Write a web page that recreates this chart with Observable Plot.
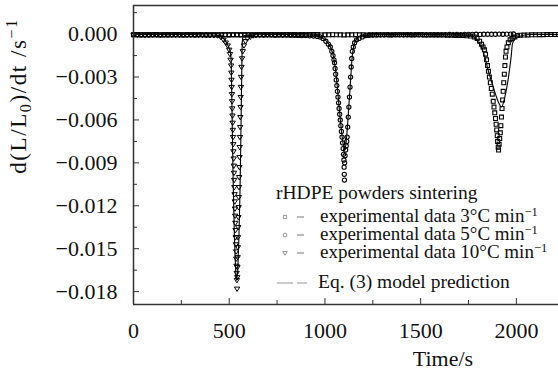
<!DOCTYPE html>
<html><head><meta charset="utf-8">
<script src="https://cdn.jsdelivr.net/npm/d3@7"></script>
<script src="https://cdn.jsdelivr.net/npm/@observablehq/plot@0.6"></script>
<style>
html,body{margin:0;padding:0;background:#fff;}
#chart svg{display:block;}
</style></head><body><div id="chart"></div>
<script>
// ---- axis ticks ----
const xTicks = [0, 500, 1000, 1500, 2000];
const xMinorTicks = [250, 750, 1250, 1750];
const yTicks = [0, -0.003, -0.006, -0.009, -0.012, -0.015, -0.018];
const yMinorTicks = [0.0015, -0.0015, -0.0045, -0.0075, -0.0105, -0.0135, -0.0165];
const xDomain = [0, 2220];
const yDomain = [-0.0189, 0.0020];

// ---- series: [time (s), d(L/L0)/dt (1/s)] ----
const data10 = [ // triangles, 10 °C/min
[0,-0.00004],[20,-0.00005],[40,-0.00004],[60,-0.00006],[80,-0.00005],[100,-0.00004],[120,-0.00005],[140,-0.00006],
[160,-0.00005],[180,-0.00004],[200,-0.00005],[220,-0.00006],[240,-0.00005],[260,-0.00005],[280,-0.00006],[300,-0.00005],
[320,-0.00006],[340,-0.00006],[360,-0.00007],[380,-0.00007],[400,-0.00008],[420,-0.00009],[440,-0.0001],
[455,-0.0002],[470,-0.0004],[482,-0.0006],[492,-0.0008],[500,-0.0011],[504,-0.0014],[507,-0.0018],
[510,-0.0022],[511,-0.0027],[512,-0.0032],[513,-0.0037],[514,-0.0042],[515,-0.0047],[516,-0.0052],[517,-0.0057],
[518,-0.0062],[519,-0.0067],[520,-0.0072],[521,-0.0077],[522,-0.0082],[523,-0.0087],[524,-0.0092],[525,-0.0097],
[526,-0.0102],[527,-0.0107],[528,-0.0112],[529,-0.0117],[530,-0.0122],[531,-0.0127],[532,-0.0132],[533,-0.0137],
[534,-0.0142],[535,-0.0147],[536,-0.0152],[537,-0.0157],[538,-0.0162],[539,-0.0167],[540,-0.0172],[541,-0.0178],
[542,-0.0170],[543,-0.0163],[544,-0.0156],[545,-0.0149],[546,-0.0142],[547,-0.0135],[548,-0.0128],[549,-0.0121],
[550,-0.0114],[551,-0.0107],[552,-0.0100],[553,-0.0093],[554,-0.0086],[555,-0.0079],[556,-0.0072],[557,-0.0065],
[558,-0.0058],[559,-0.0051],[560,-0.0044],[561,-0.0037],[562,-0.0030],[564,-0.0023],[567,-0.0017],[571,-0.0012],
[577,-0.0008],[585,-0.0005],[595,-0.0003],[610,-0.0002],[625,-0.0001],
[640,-0.00008],[660,-0.00006],[680,-0.00005],[700,-0.00005],[720,-0.00004],[740,-0.00005],[760,-0.00004],[780,-0.00004],
[800,-0.00003],[820,-0.00004],[840,-0.00003],[860,-0.00003],[880,-0.00002],[900,-0.00003],[920,-0.00002],[940,-0.00002],[960,-0.00001]
];
const data5 = [ // circles, 5 °C/min
[0,-0.00005],[20,-0.00004],[40,-0.00005],[60,-0.00005],[80,-0.00006],[100,-0.00005],[120,-0.00004],[140,-0.00005],
[160,-0.00005],[180,-0.00006],[200,-0.00005],[220,-0.00004],[240,-0.00005],[260,-0.00005],[280,-0.00004],[300,-0.00005],
[320,-0.00006],[340,-0.00005],[360,-0.00005],[380,-0.00004],[400,-0.00005],[420,-0.00005],[440,-0.00006],[460,-0.00005],
[480,-0.00005],[500,-0.00004],[520,-0.00005],[540,-0.00005],[560,-0.00006],[580,-0.00005],[600,-0.00005],[620,-0.00004],
[640,-0.00005],[660,-0.00005],[680,-0.00006],[700,-0.00005],[720,-0.00005],[740,-0.00006],[760,-0.00006],[780,-0.00007],
[800,-0.00007],[820,-0.00008],[840,-0.00008],[860,-0.00009],[880,-0.0001],[900,-0.0001],[920,-0.00012],[940,-0.00014],[960,-0.00016],
[975,-0.0002],[990,-0.0003],[1005,-0.0005],[1018,-0.0007],[1028,-0.0009],[1036,-0.0012],[1042,-0.0015],[1047,-0.0018],
[1050,-0.0020],[1053,-0.0024],[1056,-0.0028],[1059,-0.0032],[1062,-0.0036],[1065,-0.0040],[1068,-0.0044],[1071,-0.0048],
[1074,-0.0052],[1077,-0.0056],[1080,-0.0060],[1083,-0.0064],[1086,-0.0068],[1089,-0.0072],[1092,-0.0076],[1095,-0.0080],
[1097,-0.0084],[1099,-0.0088],[1100,-0.0093],[1101,-0.0098],[1102,-0.0102],
[1103,-0.0090],[1105,-0.0085],[1108,-0.0081],[1111,-0.0078],[1114,-0.0075],[1116,-0.0072],[1119,-0.0065],[1122,-0.0058],
[1125,-0.0051],[1128,-0.0044],[1131,-0.0037],[1134,-0.0030],[1137,-0.0023],[1140,-0.0017],[1143,-0.0012],[1148,-0.0009],
[1155,-0.0006],[1165,-0.0004],[1178,-0.0003],[1195,-0.0002],[1212,-0.0001],
[1230,-0.00008],[1250,-0.00007],[1270,-0.00006],[1290,-0.00005],[1310,-0.00005],[1330,-0.00004],[1350,-0.00005],[1370,-0.00004],
[1390,-0.00004],[1410,-0.00005],[1430,-0.00004],[1450,-0.00004],[1470,-0.00003],[1490,-0.00004],[1510,-0.00003],[1530,-0.00004],
[1550,-0.00003],[1570,-0.00003],[1590,-0.00004],[1610,-0.00003],[1630,-0.00003],[1650,-0.00002],[1670,-0.00003],[1690,-0.00002],
[1710,-0.00003],[1730,-0.00002],[1750,-0.00002],[1770,-0.00002],[1790,-0.00001],[1810,-0.00002],[1830,-0.00001],[1850,-0.00001],
[1870,-0.00001],[1890,-0.00001],[1910,0.0],[1930,-0.00001],[1950,0.0],[1970,0.0],[1985,0.00001]
];
const data3 = [ // squares, 3 °C/min
[0,-0.00005],[20,-0.00005],[40,-0.00006],[60,-0.00005],[80,-0.00004],[100,-0.00005],[120,-0.00005],[140,-0.00006],
[160,-0.00005],[180,-0.00005],[200,-0.00004],[220,-0.00005],[240,-0.00005],[260,-0.00006],[280,-0.00005],[300,-0.00005],
[320,-0.00004],[340,-0.00005],[360,-0.00005],[380,-0.00006],[400,-0.00005],[420,-0.00005],[440,-0.00004],[460,-0.00005],
[480,-0.00005],[500,-0.00006],[520,-0.00005],[540,-0.00005],[560,-0.00004],[580,-0.00005],[600,-0.00005],[620,-0.00006],
[640,-0.00005],[660,-0.00005],[680,-0.00004],[700,-0.00005],[720,-0.00005],[740,-0.00006],[760,-0.00005],[780,-0.00005],
[800,-0.00004],[820,-0.00005],[840,-0.00005],[860,-0.00006],[880,-0.00005],[900,-0.00005],[920,-0.00004],[940,-0.00005],
[960,-0.00005],[980,-0.00006],[1000,-0.00005],[1020,-0.00005],[1040,-0.00004],[1060,-0.00005],[1080,-0.00005],[1100,-0.00006],
[1120,-0.00005],[1140,-0.00005],[1160,-0.00004],[1180,-0.00005],[1200,-0.00005],[1220,-0.00006],[1240,-0.00005],[1260,-0.00005],
[1280,-0.00004],[1300,-0.00005],[1320,-0.00005],[1340,-0.00006],[1360,-0.00005],[1380,-0.00005],[1400,-0.00004],[1420,-0.00005],
[1440,-0.00005],[1460,-0.00006],[1480,-0.00005],[1500,-0.00005],[1520,-0.00006],[1540,-0.00006],[1560,-0.00006],[1580,-0.00007],
[1600,-0.00007],[1620,-0.00007],[1640,-0.00008],[1660,-0.00008],[1680,-0.00009],[1700,-0.0001],[1720,-0.0001],[1740,-0.00012],
[1760,-0.00014],[1780,-0.0002],[1795,-0.0003],[1808,-0.0005],[1818,-0.0007],[1826,-0.0009],[1833,-0.0011],[1839,-0.0014],
[1844,-0.0018],[1849,-0.0022],[1854,-0.0026],[1859,-0.0030],[1864,-0.0034],[1869,-0.0038],[1874,-0.0042],[1879,-0.0047],
[1883,-0.0051],[1887,-0.0055],[1891,-0.0059],[1894,-0.0063],[1897,-0.0067],[1900,-0.0071],[1902,-0.0075],[1905,-0.0079],
[1907,-0.0081],[1910,-0.0077],[1913,-0.0073],[1916,-0.0069],[1919,-0.0064],[1922,-0.0058],[1925,-0.0052],[1928,-0.0046],
[1931,-0.0040],[1934,-0.0034],[1937,-0.0028],[1940,-0.0022],[1943,-0.0016],[1946,-0.0012],[1951,-0.0009],[1958,-0.0006],
[1967,-0.0004],[1978,-0.0003],[1992,-0.0002],[2006,-0.0001],
[2020,-0.00008],[2040,-0.00007],[2060,-0.00006],[2080,-0.00005],[2100,-0.00005],[2120,-0.00004],[2140,-0.00004],[2160,-0.00003],
[2180,-0.00003],[2200,-0.00002],[2220,-0.00002]
];
const modelFit = [ // Eq. (3) model prediction
[0,-0.00002],[100,-0.00002],[200,-0.00003],[300,-0.00003],[400,-0.00006],[440,-0.0001],[470,-0.0003],[490,-0.0007],
[500,-0.0010],[506,-0.0013],[510,-0.0018],[513,-0.0040],[516,-0.0065],[519,-0.0090],[522,-0.0112],[526,-0.0135],
[530,-0.0153],[534,-0.0166],[537,-0.0172],[541,-0.0170],[546,-0.0160],[551,-0.0140],[556,-0.0112],[560,-0.0080],
[563,-0.0050],[566,-0.0022],[568,-0.0006],[572,-0.0002],[580,-0.0001],[620,-0.00005],[700,-0.00003],[800,-0.00003],
[900,-0.00005],[960,-0.0001],[990,-0.0003],[1015,-0.0006],[1032,-0.0010],[1045,-0.0016],[1058,-0.0028],[1070,-0.0045],
[1082,-0.0062],[1094,-0.0076],[1103,-0.0081],[1110,-0.0076],[1118,-0.0064],[1126,-0.0048],[1134,-0.0032],[1141,-0.0018],
[1148,-0.0010],[1158,-0.0005],[1175,-0.0002],[1200,-0.0001],[1300,-0.00003],[1400,-0.00002],[1500,-0.00002],[1600,-0.00003],
[1700,-0.00006],[1760,-0.0001],[1792,-0.0004],[1812,-0.0008],[1833,-0.0015],[1854,-0.0026],[1875,-0.0035],[1896,-0.0044],
[1911,-0.0049],[1922,-0.0051],[1938,-0.0045],[1953,-0.0035],[1963,-0.0026],[1974,-0.0014],[1979,-0.0007],[1995,-0.0003],
[2031,-0.0001],[2073,-0.00003],[2150,-0.00002],[2220,-0.00002]
];

// ---- legend texts ----
const legendTitle = "rHDPE powders sintering";
const legendLabels = ["experimental data 3°C min", "experimental data 5°C min", "experimental data 10°C min"];
const legendModel = "Eq. (3) model prediction";

const triangleDown = {
  draw(ctx, size) {
    const h = Math.sqrt(size) * 0.72;
    ctx.moveTo(-h, -h * 0.62);
    ctx.lineTo(h, -h * 0.62);
    ctx.lineTo(0, h * 1.0);
    ctx.closePath();
  }
};

const X = d => d[0], Y = d => d[1];
const font = "'Liberation Serif', 'Times New Roman', serif";

const chart = Plot.plot({
  width: 558, height: 374,
  marginLeft: 133, marginRight: 0, marginTop: 5, marginBottom: 70,
  style: {fontFamily: font, fontSize: "22px", color: "#111", background: "#fff", overflow: "visible"},
  x: {domain: xDomain},
  y: {domain: yDomain},
  marks: [
    Plot.line(modelFit, {x: X, y: Y, stroke: "#000", strokeWidth: 1.1, curve: "monotone-x"}),
    Plot.dot(data3, {x: X, y: Y, symbol: "square", r: 2.2, stroke: "#000", strokeWidth: 1.1, fill: "none"}),
    Plot.dot(data5, {x: X, y: Y, symbol: "circle", r: 2.1, stroke: "#000", strokeWidth: 1.1, fill: "none"}),
    Plot.dot(data10, {x: X, y: Y, symbol: triangleDown, r: 2.1, stroke: "#000", strokeWidth: 1.0, fill: "none"}),
    Plot.ruleX([xDomain[0]], {stroke: "#333", strokeWidth: 1.5}),
    Plot.ruleY(yDomain, {stroke: "#333", strokeWidth: 1.5}),
    Plot.axisX({ticks: xTicks, tickSize: 0, tickPadding: 18, tickFormat: d => String(d), label: null, fontSize: 22, ariaLabel: "x-labels"}),
    Plot.axisX({ticks: xTicks, tickSize: -6, tickFormat: () => "", label: null, stroke: "#333"}),
    Plot.axisX({ticks: xMinorTicks, tickSize: -4, tickFormat: () => "", label: null, stroke: "#333"}),
    Plot.axisY({ticks: yTicks, tickSize: 0, tickPadding: 16, tickFormat: d3.format(".3f"), label: null, fontSize: 22}),
    Plot.axisY({ticks: yTicks, tickSize: -6, tickFormat: () => "", label: null, stroke: "#333"}),
    Plot.axisY({ticks: yMinorTicks, tickSize: -4, tickFormat: () => "", label: null, stroke: "#333"})
  ]
});
document.getElementById("chart").appendChild(chart);

const svg = d3.select(chart);
// force serif on all Plot texts
svg.selectAll("g").filter(function() { return this.getAttribute("aria-label") && this.getAttribute("aria-label").includes("tick label"); })
  .attr("font-family", font).style("font-family", font).attr("font-size", 22).style("font-size", "22px");
svg.selectAll("text").style("font-family", font);

// x axis title
svg.append("text").attr("x", 443).attr("y", 366).attr("text-anchor", "middle")
  .style("font-family", font).attr("font-size", 22).attr("fill", "#111").text("Time/s");
// y axis title with subscript / superscript
const yl = svg.append("text").attr("transform", "translate(26,96) rotate(-90)").attr("text-anchor", "middle")
  .style("font-family", font).attr("font-size", 23).attr("letter-spacing", 1.6).attr("fill", "#111");
yl.append("tspan").text("d(L/L");
yl.append("tspan").attr("dy", 5).attr("font-size", 16).text("0");
yl.append("tspan").attr("dy", -5).text(")/dt /s");
yl.append("tspan").attr("dy", -9).attr("font-size", 16).text("−1");

// legend
const lg = svg.append("g").style("font-family", font).attr("fill", "#111").attr("text-anchor", "start");
lg.append("text").attr("x", 276).attr("y", 199).attr("font-size", 19.5).attr("text-anchor", "start").text(legendTitle);
const rowsY = [222, 240, 258];
const legendSymbols = [d3.symbol(d3.symbolSquare, 10)(), d3.symbol(d3.symbolCircle, 11)(), (() => { const p = d3.path(); triangleDown.draw(p, 10); return p.toString(); })()];
legendLabels.forEach((lab, i) => {
  const y = rowsY[i];
  lg.append("path").attr("d", legendSymbols[i])
    .attr("transform", `translate(285,${y - 5})`).attr("fill", "none").attr("stroke", "#777").attr("stroke-width", 0.8);
  lg.append("line").attr("x1", 297).attr("x2", 304).attr("y1", y - 5).attr("y2", y - 5).attr("stroke", "#777").attr("stroke-width", 1);
  const t = lg.append("text").attr("x", 320).attr("y", y).attr("font-size", 19).attr("text-anchor", "start");
  t.append("tspan").text(lab);
  t.append("tspan").attr("dy", -6).attr("font-size", 12.5).text("−1");
});
lg.append("line").attr("x1", 277).attr("x2", 293).attr("y1", 283).attr("y2", 283).attr("stroke", "#999").attr("stroke-width", 1);
lg.append("line").attr("x1", 297).attr("x2", 307).attr("y1", 283).attr("y2", 283).attr("stroke", "#999").attr("stroke-width", 1);
lg.append("text").attr("x", 318).attr("y", 288).attr("font-size", 19.5).attr("text-anchor", "start").text(legendModel);
</script></body></html>
